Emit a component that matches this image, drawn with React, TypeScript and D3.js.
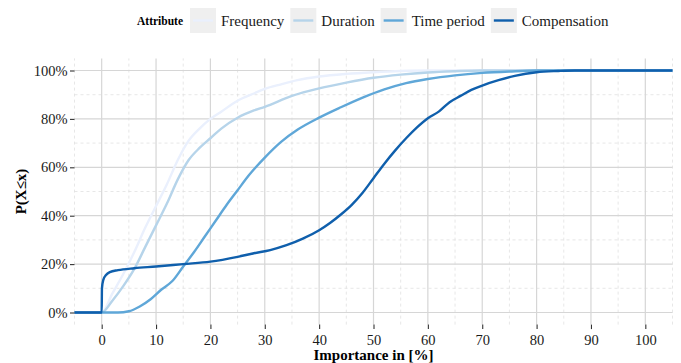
import React, { useEffect, useRef } from 'react';
import * as d3 from 'd3';

// ECDF readings (importance in %, cumulative share in %)
const freqX = [0, 2, 4, 6, 8, 10, 12, 14, 16, 18, 20, 22, 25, 28, 30, 33, 36, 40, 45, 50, 55, 60];
const freqP = [0, 8, 16, 25, 35, 44, 53, 63, 71, 76, 80, 83, 87.5, 90.5, 92.4, 94.3, 96, 97.5, 98.6, 99.3, 99.8, 100];

const durX = [0, 2, 4, 6, 8, 10, 12, 14, 16, 18, 20, 22, 25, 28, 30, 35, 40, 45, 50, 55, 60, 65, 70];
const durP = [0, 5, 11, 18, 27, 36, 45, 55, 63, 68, 72, 76, 80.5, 83.5, 85, 89.5, 92.6, 95, 97, 98.3, 99.2, 99.7, 100];

const tpX = [0, 3, 5, 7, 9, 11, 13, 15, 17, 19, 21, 23, 25, 27, 30, 33, 36, 40, 44, 48, 52, 56, 60, 65, 70, 75, 80];
const tpP = [0, 0, 0.5, 2.5, 5.5, 9.5, 13, 19, 25, 31.5, 38, 44.5, 50.5, 56.5, 64, 70.5, 75.5, 80.5, 84.8, 88.8, 92.2, 94.8, 96.5, 98, 99, 99.6, 100];

const compX = [0, 0.05, 0.3, 0.8, 1.5, 3, 6, 10, 15, 20, 25, 28, 31, 34, 37, 40, 42, 44, 46, 48, 50, 52, 54, 56, 58, 60, 62, 64, 66, 68, 70, 73, 76, 80, 84, 87];
const compP = [0, 10, 13.5, 15.5, 16.7, 17.5, 18.3, 19, 20, 21, 23, 24.5, 25.8, 27.8, 30.5, 34, 37, 40.5, 44.5, 49.5, 55.5, 61.5, 67, 72, 76.5, 80.3, 83, 86.9, 89.5, 92, 93.8, 96, 97.8, 99.3, 99.8, 100];

const attributes = ['Frequency', 'Duration', 'Time period', 'Compensation'];
const colors = ['#eaf0fd', '#b6d4ea', '#5fa7d8', '#0f5fac'];
const xTicks = [0, 10, 20, 30, 40, 50, 60, 70, 80, 90, 100];
const yTicks = [0, 20, 40, 60, 80, 100];

const W = 681, H = 363;
const margin = { left: 74.5, right: 8.5, top: 58.4, bottom: 38.4 };
const font = '"Liberation Serif", "Times New Roman", serif';

export default function App() {
  const ref = useRef<SVGSVGElement>(null);

  useEffect(() => {
    const svg = d3.select(ref.current);
    svg.selectAll('*').remove();

    const x = d3.scaleLinear().domain([-5, 105]).range([margin.left, W - margin.right]);
    const y = d3.scaleLinear().domain([-5, 105]).range([H - margin.bottom, margin.top]);
    const [x0, x1] = x.domain();

    // grid
    const grid = svg.append('g');
    const xMinor = d3.range(-5, 106, 10);
    const yMinor = d3.range(10, 100, 20);
    grid.selectAll('.xm').data(xMinor).enter().append('line')
      .attr('x1', d => x(d)).attr('x2', d => x(d))
      .attr('y1', y(-5)).attr('y2', y(105))
      .attr('stroke', '#dcdcdc').attr('stroke-width', 0.7).attr('stroke-dasharray', '3,3');
    grid.selectAll('.ym').data(yMinor).enter().append('line')
      .attr('x1', x(x0)).attr('x2', x(x1))
      .attr('y1', d => y(d)).attr('y2', d => y(d))
      .attr('stroke', '#dcdcdc').attr('stroke-width', 0.7).attr('stroke-dasharray', '3,3');
    grid.selectAll('.xM').data(xTicks).enter().append('line')
      .attr('x1', d => x(d)).attr('x2', d => x(d))
      .attr('y1', y(-5)).attr('y2', y(105))
      .attr('stroke', '#d6d6d6').attr('stroke-width', 1.2);
    grid.selectAll('.yM').data(yTicks).enter().append('line')
      .attr('x1', x(x0)).attr('x2', x(x1))
      .attr('y1', d => y(d)).attr('y2', d => y(d))
      .attr('stroke', '#d6d6d6').attr('stroke-width', 1.2);

    // ecdf lines, padded to panel edges
    const series = [
      [freqX, freqP], [durX, durP], [tpX, tpP], [compX, compP],
    ].map(([xs, ps]) => [[x0, 0], ...xs.map((v, i) => [v, ps[i]]), [x1, 100]] as [number, number][]);

    const lineGen = d3.line<[number, number]>()
      .x(d => x(d[0])).y(d => y(d[1]))
      .curve(d3.curveMonotoneX);

    svg.append('g').selectAll('path').data(series).enter().append('path')
      .attr('d', d => lineGen(d))
      .attr('fill', 'none')
      .attr('stroke', (d, i) => colors[i])
      .attr('stroke-width', 2.4)
      .attr('stroke-linejoin', 'round');

    // axes
    const xAxis = d3.axisBottom(x).tickValues(xTicks).tickSize(4.5).tickPadding(6).tickFormat(d => String(d));
    const gx = svg.append('g').attr('transform', `translate(0,${y(-5)})`).call(xAxis);
    const yAxis = d3.axisLeft(y).tickValues(yTicks).tickSize(4.5).tickPadding(2.5).tickFormat(d => `${d}%`);
    const gy = svg.append('g').attr('transform', `translate(${x(x0)},0)`).call(yAxis);
    [gx, gy].forEach(g => {
      g.attr('font-family', font).attr('font-size', 14.5);
      g.select('.domain').remove();
      g.selectAll('line').attr('stroke', '#333').attr('stroke-width', 1.1);
      g.selectAll('text').attr('fill', '#1a1a1a');
    });

    // titles
    svg.append('text')
      .attr('x', (x(x0) + x(x1)) / 2).attr('y', 360)
      .attr('text-anchor', 'middle')
      .style('font-family', font).style('font-size', '15px').style('font-weight', 'bold')
      .text('Importance in [%]');
    svg.append('text')
      .attr('transform', `translate(26,${(y(-5) + y(105)) / 2}) rotate(-90)`)
      .attr('text-anchor', 'middle')
      .style('font-family', font).style('font-size', '15px').style('font-weight', 'bold')
      .text('P(X\u2264x)');

    // legend
    const leg = svg.append('g');
    leg.append('text').attr('x', 137).attr('y', 24.5)
      .style('font-family', font).style('font-size', '11.5px').style('font-weight', 'bold')
      .text('Attribute');
    let cx = 190;
    attributes.forEach((a, i) => {
      leg.append('rect').attr('x', cx).attr('y', 8).attr('width', 26).attr('height', 25).attr('fill', '#efefef');
      leg.append('line').attr('x1', cx + 3).attr('x2', cx + 23).attr('y1', 20.5).attr('y2', 20.5)
        .attr('stroke', colors[i]).attr('stroke-width', 2.4);
      const t = leg.append('text').attr('x', cx + 31).attr('y', 25.5)
        .style('font-family', font).style('font-size', '15px').attr('fill', '#1a1a1a')
        .text(a);
      const w = (t.node() as SVGTextElement).getComputedTextLength();
      cx += 31 + w + 6;
    });
  }, []);

  return (
    <svg ref={ref} width={W} height={H} style={{ position: 'absolute', left: 0, top: 0, background: '#fff' }} />
  );
}
